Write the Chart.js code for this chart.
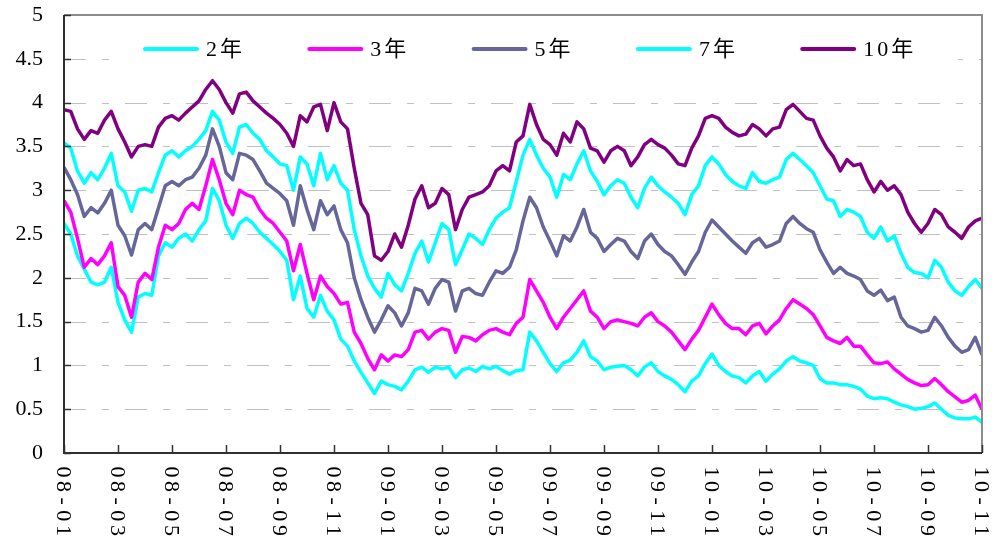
<!DOCTYPE html>
<html>
<head>
<meta charset="utf-8">
<title>国债收益率</title>
<script src="https://cdn.jsdelivr.net/npm/chart.js@4.4.1/dist/chart.umd.min.js"></script>
<style>
  html, body { margin: 0; padding: 0; background: #fff; }
  #wrap { width: 1003px; height: 540px; }
</style>
</head>
<body>
<div id="wrap"><canvas id="chart" width="1003" height="540"></canvas></div>
<script>
// Yields, one value per ~week (x in months from 2008-01)
const monthStep = 0.25;

const y2 = [
  2.62, 2.50, 2.25, 2.10, 1.95, 1.92, 1.95, 2.12, 1.72, 1.52, 1.38, 1.78, 1.82, 1.80, 2.25, 2.40, 2.35, 2.45, 2.50, 2.42, 2.55, 2.65, 3.02, 2.88, 2.60, 2.45, 2.62, 2.68,
  2.62, 2.52, 2.45, 2.38, 2.30, 2.20, 1.75, 2.02, 1.65, 1.55, 1.80, 1.62, 1.52, 1.30, 1.22, 1.05, 0.92, 0.80, 0.68, 0.82, 0.78, 0.76, 0.72, 0.82, 0.95, 0.98, 0.92,
  0.98, 0.96, 0.98, 0.86, 0.95, 0.97, 0.93, 0.99, 0.96, 0.99, 0.94, 0.90, 0.94, 0.95, 1.38, 1.28, 1.15, 1.02, 0.93, 1.03, 1.06, 1.15, 1.28, 1.10, 1.05, 0.95, 0.98,
  0.99, 1.00, 0.95, 0.88, 0.98, 1.03, 0.93, 0.88, 0.84, 0.78, 0.70, 0.82, 0.88, 1.02, 1.13, 1.00, 0.93, 0.88, 0.86, 0.80, 0.88, 0.93, 0.82, 0.90, 0.96, 1.05,
  1.10, 1.05, 1.03, 1.00, 0.85, 0.80, 0.80, 0.78, 0.78, 0.76, 0.73, 0.65, 0.62, 0.63, 0.62, 0.58, 0.55, 0.53, 0.50, 0.51, 0.53, 0.57, 0.50, 0.43, 0.40, 0.39, 0.39, 0.41, 0.35
];

const y3 = [
  2.88, 2.75, 2.45, 2.12, 2.22, 2.15, 2.25, 2.40, 1.90, 1.80, 1.55, 1.95, 2.05, 1.98, 2.35, 2.60, 2.55, 2.62, 2.78, 2.85, 2.78, 3.05, 3.35, 3.12, 2.85, 2.72, 3.00, 2.95,
  2.92, 2.78, 2.68, 2.62, 2.52, 2.42, 2.08, 2.38, 2.05, 1.75, 2.02, 1.90, 1.82, 1.70, 1.72, 1.38, 1.25, 1.08, 0.95, 1.12, 1.05, 1.12, 1.10, 1.18, 1.38, 1.40, 1.30,
  1.38, 1.42, 1.40, 1.15, 1.33, 1.32, 1.28, 1.35, 1.40, 1.42, 1.38, 1.35, 1.48, 1.55, 1.98, 1.85, 1.72, 1.55, 1.42, 1.55, 1.65, 1.75, 1.85, 1.62, 1.55, 1.42, 1.50,
  1.52, 1.50, 1.48, 1.45, 1.55, 1.60, 1.50, 1.45, 1.38, 1.28, 1.18, 1.30, 1.40, 1.55, 1.70, 1.58, 1.48, 1.42, 1.42, 1.35, 1.45, 1.48, 1.36, 1.45, 1.52, 1.65,
  1.75, 1.70, 1.65, 1.58, 1.45, 1.32, 1.28, 1.25, 1.32, 1.22, 1.22, 1.12, 1.03, 1.02, 1.04, 0.96, 0.90, 0.84, 0.80, 0.77, 0.78, 0.85, 0.78, 0.70, 0.64, 0.58, 0.60, 0.66, 0.50
];

const y5 = [
  3.26, 3.12, 2.95, 2.70, 2.80, 2.74, 2.85, 3.00, 2.60, 2.48, 2.26, 2.55, 2.62, 2.55, 2.80, 3.05, 3.10, 3.05, 3.12, 3.15, 3.25, 3.40, 3.70, 3.50, 3.20, 3.12, 3.42, 3.40,
  3.35, 3.22, 3.08, 3.02, 2.96, 2.88, 2.60, 3.05, 2.78, 2.55, 2.88, 2.72, 2.82, 2.55, 2.40, 2.00, 1.75, 1.55, 1.38, 1.52, 1.68, 1.60, 1.45, 1.60, 1.88, 1.85, 1.70,
  1.88, 1.98, 1.95, 1.62, 1.85, 1.88, 1.82, 1.80, 1.95, 2.08, 2.05, 2.12, 2.32, 2.65, 2.92, 2.80, 2.58, 2.42, 2.25, 2.48, 2.42, 2.58, 2.78, 2.52, 2.45, 2.30, 2.38,
  2.45, 2.42, 2.30, 2.22, 2.42, 2.50, 2.38, 2.30, 2.25, 2.15, 2.04, 2.18, 2.30, 2.52, 2.66, 2.58, 2.50, 2.42, 2.35, 2.28, 2.40, 2.45, 2.35, 2.38, 2.42, 2.62,
  2.70, 2.62, 2.56, 2.52, 2.32, 2.18, 2.05, 2.12, 2.05, 2.02, 1.98, 1.85, 1.80, 1.86, 1.74, 1.78, 1.55, 1.45, 1.42, 1.38, 1.40, 1.55, 1.45, 1.32, 1.22, 1.15, 1.18, 1.32, 1.12
];

const y7 = [
  3.54, 3.48, 3.22, 3.08, 3.20, 3.12, 3.25, 3.42, 3.05, 2.98, 2.76, 3.00, 3.02, 2.98, 3.20, 3.40, 3.45, 3.38, 3.45, 3.50, 3.58, 3.68, 3.90, 3.80, 3.55, 3.42, 3.72, 3.75,
  3.65, 3.58, 3.45, 3.38, 3.30, 3.28, 3.00, 3.38, 3.30, 3.05, 3.42, 3.12, 3.28, 3.08, 3.00, 2.55, 2.25, 2.02, 1.88, 1.78, 2.05, 1.92, 1.85, 2.05, 2.28, 2.42, 2.18,
  2.40, 2.62, 2.55, 2.15, 2.32, 2.50, 2.45, 2.38, 2.55, 2.68, 2.75, 2.80, 3.10, 3.40, 3.58, 3.40, 3.25, 3.15, 2.92, 3.18, 3.12, 3.30, 3.45, 3.22, 3.10, 2.95, 3.05,
  3.12, 3.08, 2.92, 2.80, 3.02, 3.15, 3.05, 2.98, 2.92, 2.85, 2.72, 2.95, 3.05, 3.28, 3.38, 3.30, 3.18, 3.10, 3.05, 3.02, 3.20, 3.10, 3.08, 3.12, 3.15, 3.35,
  3.42, 3.35, 3.28, 3.20, 3.05, 2.90, 2.88, 2.70, 2.78, 2.75, 2.70, 2.52, 2.45, 2.58, 2.42, 2.48, 2.28, 2.12, 2.06, 2.05, 2.00, 2.20, 2.12, 1.95, 1.85, 1.80, 1.90, 1.98, 1.88
];

const y10 = [
  3.92, 3.90, 3.70, 3.58, 3.68, 3.65, 3.80, 3.90, 3.70, 3.55, 3.38, 3.50, 3.52, 3.50, 3.72, 3.82, 3.85, 3.80, 3.88, 3.95, 4.02, 4.15, 4.25, 4.15, 4.00, 3.88, 4.10, 4.12,
  4.02, 3.95, 3.88, 3.82, 3.75, 3.65, 3.50, 3.85, 3.78, 3.95, 3.98, 3.68, 4.00, 3.78, 3.70, 3.25, 2.85, 2.72, 2.25, 2.20, 2.30, 2.50, 2.35, 2.60, 2.90, 3.05, 2.80,
  2.85, 3.02, 2.95, 2.55, 2.78, 2.92, 2.95, 2.98, 3.05, 3.22, 3.28, 3.22, 3.55, 3.62, 3.98, 3.75, 3.58, 3.52, 3.40, 3.65, 3.55, 3.78, 3.70, 3.48, 3.45, 3.32, 3.45,
  3.50, 3.45, 3.28, 3.38, 3.52, 3.58, 3.52, 3.48, 3.40, 3.30, 3.28, 3.48, 3.62, 3.82, 3.85, 3.82, 3.72, 3.66, 3.62, 3.64, 3.75, 3.70, 3.62, 3.70, 3.72, 3.92,
  3.98, 3.90, 3.82, 3.80, 3.62, 3.48, 3.38, 3.22, 3.35, 3.28, 3.30, 3.12, 2.98, 3.10, 3.00, 3.05, 2.95, 2.75, 2.62, 2.52, 2.62, 2.78, 2.72, 2.58, 2.52, 2.45, 2.58, 2.65, 2.68
];

const seriesNames = ['2年', '3年', '5年', '7年', '10年'];
const seriesValues = [y2, y3, y5, y7, y10];
const seriesColors = ['#00ffff', '#ff00ff', '#666699', '#00ffff', '#800080'];

// one label every two months, starting at month 0
const tickLabels = ['08-01', '08-03', '08-05', '08-07', '08-09', '08-11',
                    '09-01', '09-03', '09-05', '09-07', '09-09', '09-11',
                    '10-01', '10-03', '10-05', '10-07', '10-09', '10-11'];
const yTicks = [0, 0.5, 1, 1.5, 2, 2.5, 3, 3.5, 4, 4.5, 5];

const serif = "'Liberation Serif', 'Times New Roman', 'DejaVu Serif', serif";
const legendFont = serif.replace(', serif', ", 'Noto Sans CJK SC', serif");

function toPoints(values) {
    return values.map((v, i) => ({ x: i * monthStep, y: v }));
}

// Excel-style frame, dashed grid, inner legend and rotated date labels
const excelFrame = {
    id: 'excelFrame',
    beforeDatasetsDraw(chart) {
        const { ctx, chartArea: a, scales: { y } } = chart;
        ctx.save();
        ctx.strokeStyle = '#c0c0c0';
        ctx.lineWidth = 1;
        ctx.setLineDash([22, 16, 7, 16]);
        yTicks.forEach(v => {
            if (v <= 0 || v >= 5) return;
            const py = Math.round(y.getPixelForValue(v)) + 0.5;
            ctx.beginPath();
            ctx.moveTo(a.left, py);
            ctx.lineTo(a.right, py);
            ctx.stroke();
        });
        ctx.setLineDash([]);
        // white panel behind the legend
        ctx.fillStyle = '#fff';
        ctx.fillRect(a.left + 48, a.top + 9, 846, 48);
        ctx.restore();
    },
    afterDatasetsDraw(chart) {
        const { ctx, chartArea: a, scales: { x, y } } = chart;
        ctx.save();

        // legend
        ctx.font = '22px ' + legendFont;
        ctx.textBaseline = 'middle';
        ctx.textAlign = 'left';
        seriesNames.forEach((name, i) => {
            const lx = a.left + 81 + i * 164.3;
            const ly = a.top + 34;
            ctx.strokeStyle = seriesColors[i];
            ctx.lineWidth = 4;
            ctx.lineCap = 'round';
            ctx.beginPath();
            ctx.moveTo(lx, ly);
            ctx.lineTo(lx + 52, ly);
            ctx.stroke();
            ctx.fillStyle = '#000';
            ctx.letterSpacing = '3px';
            ctx.fillText(name, lx + 61, ly + 1);
            ctx.letterSpacing = '0px';
        });

        // frame: gray top/right, dark left/bottom
        ctx.lineCap = 'butt';
        ctx.lineWidth = 2;
        ctx.strokeStyle = '#8c8c8c';
        ctx.beginPath();
        ctx.moveTo(a.left, a.top);
        ctx.lineTo(a.right, a.top);
        ctx.lineTo(a.right, a.bottom);
        ctx.stroke();
        ctx.strokeStyle = '#303030';
        ctx.beginPath();
        ctx.moveTo(a.left, a.top);
        ctx.lineTo(a.left, a.bottom);
        ctx.lineTo(a.right, a.bottom);
        ctx.stroke();

        // inward tick marks
        ctx.lineWidth = 1.5;
        yTicks.forEach(v => {
            const py = Math.round(y.getPixelForValue(v)) + 0.5;
            ctx.beginPath();
            ctx.moveTo(a.left, py);
            ctx.lineTo(a.left + 7, py);
            ctx.stroke();
        });
        tickLabels.forEach((lab, i) => {
            const px = Math.round(x.getPixelForValue(i * 2)) + 0.5;
            ctx.beginPath();
            ctx.moveTo(px, a.bottom);
            ctx.lineTo(px, a.bottom - 8);
            ctx.stroke();
        });

        // date labels, turned clockwise, read top to bottom
        ctx.fillStyle = '#000';
        ctx.font = '22px ' + serif;
        ctx.textAlign = 'center';
        ctx.textBaseline = 'middle';
        tickLabels.forEach((lab, i) => {
            const px = x.getPixelForValue(i * 2);
            ctx.save();
            ctx.translate(px - 1, a.bottom + 12);
            ctx.rotate(Math.PI / 2);
            [...lab].forEach((ch, k) => ctx.fillText(ch, 7 + k * 14.6, 0));
            ctx.restore();
        });
        ctx.restore();
    }
};

const ctx = document.getElementById('chart').getContext('2d');
new Chart(ctx, {
    type: 'line',
    data: {
        datasets: seriesNames.map((name, i) => ({
            label: name,
            data: toPoints(seriesValues[i]),
            borderColor: seriesColors[i],
            backgroundColor: seriesColors[i],
            borderWidth: 3.5,
            pointRadius: 0,
            tension: 0,
            borderJoinStyle: 'round',
            fill: false,
            order: seriesNames.length - 1 - i
        }))
    },
    options: {
        responsive: false,
        animation: false,
        devicePixelRatio: 1,
        layout: { padding: { left: 0, right: 21, top: 15, bottom: 87 } },
        scales: {
            x: {
                type: 'linear',
                display: false,
                min: 0,
                max: 34
            },
            y: {
                min: 0,
                max: 5,
                afterFit(scale) {
                    scale.width = 64;
                    scale.paddingTop = 0;
                },
                grid: { display: false, drawTicks: false },
                border: { display: false },
                ticks: {
                    stepSize: 0.5,
                    padding: 21,
                    color: '#000',
                    font: { family: serif, size: 22 },
                    callback: v => String(v)
                }
            }
        },
        plugins: {
            legend: { display: false },
            tooltip: { enabled: false }
        }
    },
    plugins: [excelFrame]
});
</script>
</body>
</html>
